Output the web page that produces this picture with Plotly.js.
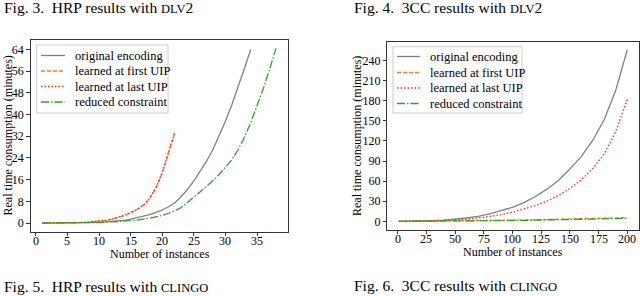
<!DOCTYPE html>
<html><head><meta charset="utf-8">
<script src="https://cdn.plot.ly/plotly-3.0.1.min.js"></script>
<style>html,body{margin:0;padding:0;background:#fff}#chart{width:640px;height:296px}</style>
</head><body><div id="chart"></div>
<script>
// ---- Left panel (HRP) ----
const hrpX = [1,2,3,4,5,6,7,8,9,10,11,12,13,14,15,16,17,18,19,20,21,22,23,24,25,26,27,28,29,30,31,32,33,34,35,36,37,38];
const hrpOriginal = [0,0,0,0.01,0.02,0.04,0.07,0.1,0.15,0.25,0.4,0.55,0.75,1.0,1.4,1.9,2.5,3.1,3.9,4.8,6.0,7.5,9.8,12.4,15.5,19,22.8,27,32,37.5,43.5,50,57,64];
const hrpFirstUIP = [0,0,0.02,0.05,0.08,0.12,0.18,0.28,0.45,0.7,1.0,1.4,2.0,2.8,3.8,5.0,6.6,9.0,13.0,18.5,26.0,33.5];
const hrpLastUIP  = [0,0,0.02,0.05,0.08,0.12,0.18,0.28,0.45,0.7,1.0,1.4,2.0,2.8,3.8,5.0,6.6,9.1,13.1,18.6,26.1,33.6];
const hrpReduced = [0,0,0,0,0.01,0.02,0.04,0.07,0.1,0.2,0.3,0.4,0.5,0.65,0.85,1.1,1.4,1.8,2.3,2.8,3.6,4.5,5.7,7.5,9.6,11.5,13.5,15.6,17.9,20.4,23.3,27,31.6,37,43,49.6,56.8,64.4];
const hrpXTicks = [0,5,10,15,20,25,30,35];
const hrpYTicks = [0,8,16,24,32,40,48,56,64];
// ---- Right panel (3CC) ----
const cccX = [1,10,20,30,40,50,60,70,80,90,100,110,120,130,140,150,160,170,180,190,200];
const cccOriginal = [0,0.1,0.4,0.9,1.8,3.2,5,7.5,11,16,21,28,37,48,61,78,97,121,152,196,256];
const cccFirstUIP = [0,0.05,0.1,0.2,0.35,0.5,0.7,0.9,1.1,1.3,1.6,1.9,2.2,2.5,2.9,3.3,3.7,4.1,4.6,5.1,5.6];
const cccLastUIP  = [0,0,0.2,0.6,1.2,2,3.2,4.8,7,10,13.5,18,23.5,30,38.5,49,62,79,101,134,182];
const cccReduced  = [0,0.05,0.1,0.2,0.3,0.45,0.6,0.75,0.9,1.1,1.3,1.5,1.8,2.0,2.3,2.6,3.0,3.3,3.7,4.1,4.5];
const cccXTicks = [0,25,50,75,100,125,150,175,200];
const cccYTicks = [0,30,60,90,120,150,180,210,240];

const names = ['original encoding','learned at first UIP','learned at last UIP','reduced constraint'];
const styles = [
  {color:'#808080', width:1.3, dash:'solid'},
  {color:'#ff7f0e', width:1.3, dash:'4px,2px'},
  {color:'#ff2020', width:1.3, dash:'1.5px,2px'},
  {color:'#2ca02c', width:1.3, dash:'8px,2px,1.5px,2px'}
];
const FONT = 'Liberation Serif';
const traces = [];
[hrpOriginal, hrpFirstUIP, hrpLastUIP, hrpReduced].forEach((ys,i)=>{
  traces.push({x:hrpX.slice(0,ys.length), y:ys, name:names[i], mode:'lines', line:styles[i], xaxis:'x', yaxis:'y', showlegend:false});
});
[cccOriginal, cccFirstUIP, cccLastUIP, cccReduced].forEach((ys,i)=>{
  traces.push({x:cccX, y:ys, name:names[i], mode:'lines', line:styles[i], xaxis:'x2', yaxis:'y2', showlegend:false});
});

const axBase = {showline:true, mirror:true, linecolor:'#333', linewidth:1, ticks:'outside', ticklen:3.5, tickcolor:'#333',
  showgrid:false, zeroline:false, tickfont:{family:FONT, size:12, color:'#000'}};

const W=640, H=296;
const px = v => v/W, py = v => 1 - v/H;
const annotations = [
  {text:'Fig. 3.  HRP results with <span style="font-size:12.5px">DLV</span>2', x:px(2), y:py(7)},
  {text:'Fig. 4.  3CC results with <span style="font-size:12.5px">DLV</span>2', x:px(352), y:py(7)},
  {text:'Fig. 5.  HRP results with <span style="font-size:12.5px">CLINGO</span>', x:px(2), y:py(286)},
  {text:'Fig. 6.  3CC results with <span style="font-size:12.5px">CLINGO</span>', x:px(352), y:py(285)}
].map(a=>Object.assign({xref:'paper', yref:'paper', xanchor:'left', yanchor:'middle', showarrow:false, font:{family:FONT, size:15.5, color:'#000'}}, a));
[
  {text:'Number of instances', x:px(160), y:py(254)},
  {text:'Number of instances', x:px(513), y:py(251.5)},
  {text:'Real time consumption (minutes)', x:px(7.5), y:py(136), textangle:-90},
  {text:'Real time consumption (minutes)', x:px(357), y:py(136), textangle:-90}
].forEach(a=>annotations.push(Object.assign({xref:'paper', yref:'paper', xanchor:'center', yanchor:'middle', showarrow:false, font:{family:FONT, size:12, color:'#000'}}, a)));

// x tick labels placed close to the axis (matplotlib spacing)
hrpXTicks.forEach(v=>annotations.push({text:String(v), xref:'x', yref:'paper', x:v, y:py(240.5), xanchor:'center', yanchor:'middle', showarrow:false, font:{family:FONT, size:12, color:'#000'}}));
cccXTicks.forEach(v=>annotations.push({text:String(v), xref:'x2', yref:'paper', x:v, y:py(238.5), xanchor:'center', yanchor:'middle', showarrow:false, font:{family:FONT, size:12, color:'#000'}}));

// manual legends (matplotlib-like compact spacing)
const shapes = [];
function addLegend(box, lineX0, lineX1, textX, rows){
  shapes.push({type:'rect', xref:'paper', yref:'paper', x0:px(box[0]), x1:px(box[1]), y0:py(box[2]), y1:py(box[3]),
    line:{color:'#cccccc', width:1}, fillcolor:'rgba(255,255,255,0.8)', layer:'above'});
  names.forEach((n,i)=>{
    shapes.push({type:'line', xref:'paper', yref:'paper', x0:px(lineX0), x1:px(lineX1), y0:py(rows[i]), y1:py(rows[i]),
      line:{color:styles[i].color, width:styles[i].width, dash:styles[i].dash}, layer:'above'});
    annotations.push({text:n, xref:'paper', yref:'paper', x:px(textX), y:py(rows[i]), xanchor:'left', yanchor:'middle',
      showarrow:false, font:{family:FONT, size:12.5, color:'#000'}});
  });
}
addLegend([36.7,168,45,113], 41, 65, 73, [55.5,71,86.5,102]);
addLegend([393,522,46.7,113], 397, 420, 428, [56.5,72.5,88,103.5]);

const layout = {
  width:W, height:H, margin:{l:0,r:0,t:0,b:0}, paper_bgcolor:'#fff', plot_bgcolor:'#fff',
  font:{family:FONT, color:'#000', size:12},
  xaxis:Object.assign({}, axBase, {domain:[0.0477,0.4495], range:[-0.85,39.85], tickvals:hrpXTicks, showticklabels:false, anchor:'y'}),
  yaxis:Object.assign({}, axBase, {domain:[0.2172,0.8659], range:[-3.2,67.6], tickvals:hrpYTicks, anchor:'x'}),
  xaxis2:Object.assign({}, axBase, {domain:[0.6052,0.998], range:[-8.95,209.95], tickvals:cccXTicks, showticklabels:false, anchor:'y2'}),
  yaxis2:Object.assign({}, axBase, {domain:[0.223,0.8591], range:[-12.9,268], tickvals:cccYTicks, anchor:'x2'}),
  showlegend:false,
  annotations, shapes
};
Plotly.newPlot('chart', traces, layout, {displayModeBar:false, staticPlot:true});
</script></body></html>
